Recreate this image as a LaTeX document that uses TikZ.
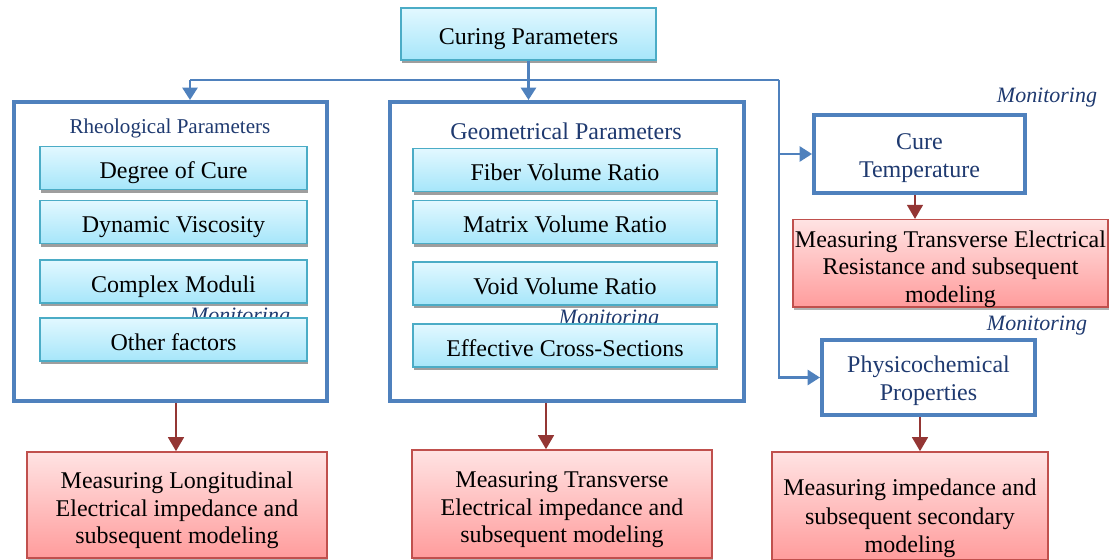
\documentclass[tikz,border=0pt]{standalone}
\usepackage{fontspec}
\setmainfont{Liberation Serif}
\usetikzlibrary{arrows.meta,shadows}

\definecolor{lineblue}{HTML}{4F81BD}
\definecolor{navy}{HTML}{1F3A70}
\definecolor{aquaedge}{HTML}{4BACC6}
\definecolor{aquatop}{HTML}{E2F8FF}
\definecolor{aquabot}{HTML}{A6E6FA}
\definecolor{rededge}{HTML}{C0504D}
\definecolor{redtop}{HTML}{FFE3E3}
\definecolor{redbot}{HTML}{FF9C9C}
\definecolor{redline}{HTML}{943634}

\def\unit{0.02cm}

\begin{document}
\begin{tikzpicture}[%
	x=\unit, y=-\unit,%
	every node/.style={font=\fontsize{13.66}{15.6}\selectfont, inner sep=0pt},%
	param/.style={draw=aquaedge, line width=1.1pt, top color=aquatop, bottom color=aquabot, minimum height=0.86cm, text height=12.2pt, text depth=0pt, drop shadow={shadow xshift=0.02cm, shadow yshift=-0.07cm, fill=black!38, opacity=1}},%
	group/.style={draw=lineblue, line width=2.3pt, fill=white},%
	result/.style={draw=rededge, line width=0.9pt, top color=redtop, bottom color=redbot, align=center, text height=46.9pt, drop shadow={shadow xshift=0.02cm, shadow yshift=-0.05cm, fill=black!30, opacity=1}},%
	title/.style={text=navy},%
	monitor/.style={text=navy, font=\itshape\fontsize{12.5}{14}\selectfont},%
	link/.style={lineblue, line width=1.5pt, -{Triangle[length=7pt,width=8.5pt]}},%
	flow/.style={redline, line width=1.2pt, -{Triangle[length=8pt,width=9pt]}},%
	]
\useasboundingbox (0,0) rectangle (1110,560);
%%% top
	\node [param, minimum width=5.1cm, minimum height=1.04cm] (curing) at (528.5,34) {Curing Parameters};
%%% groups
	\node [group, minimum width=6.26cm, minimum height=5.98cm] (rheo) at (170.5,251.5) {};
	\node [group, minimum width=7.08cm, minimum height=5.98cm] (geo) at (567,251.5) {};
	\node [title, font=\fontsize{12}{14}\selectfont] (rheotitle) at (170,128) {Rheological Parameters};
	\node [title] (geotitle) at (566,131) {Geometrical Parameters};
	% labels hidden behind the boxes
	\node [monitor, anchor=base] (monA) at (240,323) {Monitoring};
	\node [monitor, anchor=base] (monB) at (609,325) {Monitoring};
	\foreach \name/\y/\txt in {deg/168/Degree of Cure,dyn/222/Dynamic Viscosity,cmod/281.5/Complex Moduli,other/339.5/Other factors}
		{\node [param, minimum width=5.34cm] (\name) at (173.5,\y) {\txt};}
	\foreach \name/\y/\txt in {fiber/170/Fiber Volume Ratio,matrix/222/Matrix Volume Ratio,void/283.5/Void Volume Ratio,cross/345.5/Effective Cross-Sections}
		{\node [param, minimum width=6.08cm] (\name) at (565,\y) {\txt};}
%%% right column
	\node [group, title, align=center, font=\fontsize{13.66}{16}\selectfont, text height=29.6pt, minimum width=4.22cm, minimum height=1.56cm] (temp) at (919.5,154) {Cure\\Temperature};
	\node [group, title, align=center, font=\fontsize{13.66}{16}\selectfont, text height=29.6pt, minimum width=4.26cm, minimum height=1.5cm] (phys) at (928.5,377.5) {Physicochemical\\Properties};
	\node [monitor] (monC) at (1047,98) {Monitoring};
	\node [monitor] (monD) at (1037,326) {Monitoring};
%%% results
	\node [result, minimum width=6cm, minimum height=2.12cm] (meas1) at (177,505) {Measuring Longitudinal\\Electrical impedance and\\subsequent modeling};
	\node [result, minimum width=6cm, minimum height=2.16cm] (meas2) at (562,504) {Measuring Transverse\\Electrical impedance and\\subsequent modeling};
	\node [result, minimum width=6.3cm, minimum height=1.66cm] (meas3) at (950.5,263.5) {Measuring Transverse Electrical\\Resistance and subsequent\\modeling};
	\node [result, font=\fontsize{13.66}{16.2}\selectfont, text height=56pt, minimum width=5.52cm, minimum height=2.16cm] (meas4) at (910,506) {Measuring impedance and\\subsequent secondary\\modeling};
%%% blue links
	\coordinate (left) at (190,80);
	\coordinate (right) at (779,80);
	\draw [link] (curing.south) -- (curing.south |- geo.north);
	\draw [lineblue, line width=1.5pt] (left) -- (right);
	\draw [link] (left) -- (left |- rheo.north);
	\draw [link] (right) |- (temp.west);
	\draw [link] (right) |- (phys.west);
%%% red links
	\draw [flow] ([xshift=0.11cm]rheo.south) -- ([xshift=0.11cm]rheo.south |- meas1.north);
	\draw [flow] ([xshift=-0.42cm]geo.south) -- ([xshift=-0.42cm]geo.south |- meas2.north);
	\draw [flow] ([xshift=-0.09cm]temp.south) -- ([xshift=-0.09cm]temp.south |- meas3.north);
	\draw [flow] ([xshift=-0.17cm]phys.south) -- ([xshift=-0.17cm]phys.south |- meas4.north);
\end{tikzpicture}
\end{document}
